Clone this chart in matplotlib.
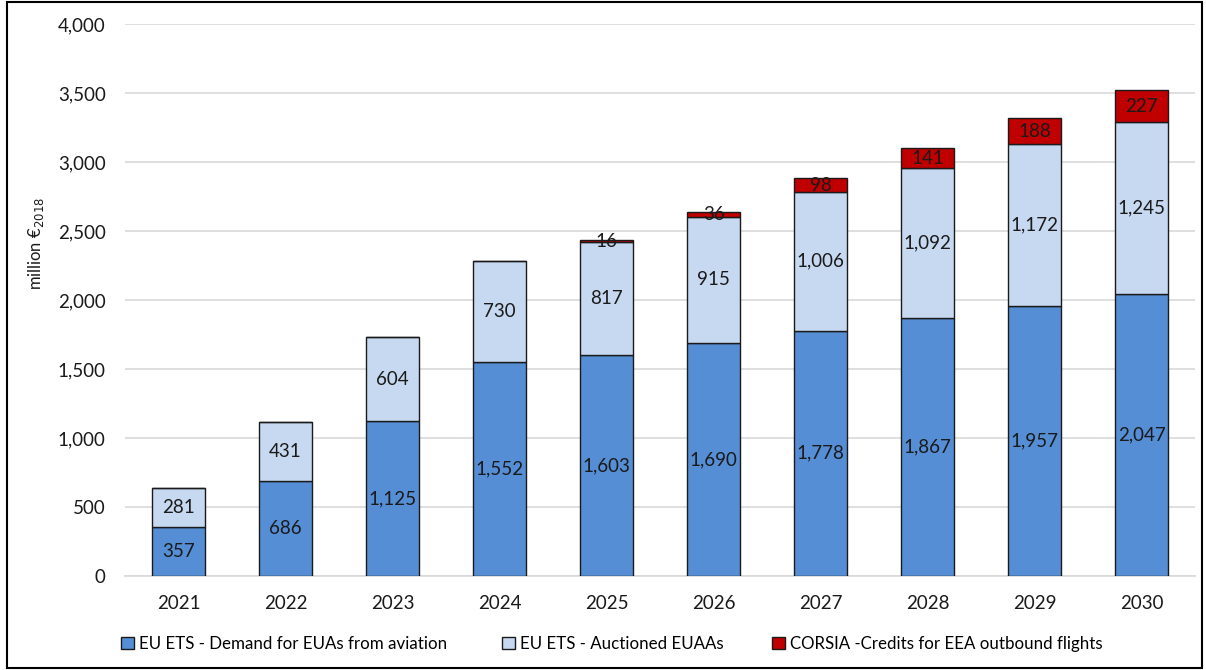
import matplotlib
matplotlib.use("Agg")
import matplotlib.pyplot as plt
from matplotlib.patches import Rectangle
import numpy as np

plt.rcParams['font.family'] = ['Lato', 'DejaVu Sans']

years = ["2021", "2022", "2023", "2024", "2025", "2026", "2027", "2028", "2029", "2030"]
demand = [357, 686, 1125, 1552, 1603, 1690, 1778, 1867, 1957, 2047]
auctioned = [281, 431, 604, 730, 817, 915, 1006, 1092, 1172, 1245]
corsia = [0, 0, 0, 0, 16, 36, 98, 141, 188, 227]

series = [
    ("EU ETS - Demand for EUAs from aviation", demand, "#558ed5"),
    ("EU ETS - Auctioned EUAAs", auctioned, "#c6d9f1"),
    ("CORSIA -Credits for EEA outbound flights", corsia, "#c00000"),
]

fig = plt.figure(figsize=(12.06, 6.70), dpi=100)
ax = fig.add_axes([0.1037, 0.1403, 0.8873, 0.8237])

x = np.arange(len(years))
bottom = np.zeros(len(years))
handles = []
for name, vals, col in series:
    vals = np.array(vals, dtype=float)
    bars = ax.bar(x, vals, 0.5, bottom=bottom, color=col, edgecolor="#1a1a1a",
                  linewidth=1.0, label=name, zorder=3)
    handles.append(bars)
    for xi, b, v in zip(x, bottom, vals):
        if v > 0:
            ax.text(xi, b + v / 2, f"{int(v):,}", ha="center", va="center",
                    fontsize=13.5, color="#1a1a1a", zorder=4)
    bottom += vals

ax.set_xlim(-0.5, 9.5)
ax.set_ylim(0, 4000)
ax.set_yticks(np.arange(0, 4001, 500))
ax.yaxis.set_major_formatter(matplotlib.ticker.FuncFormatter(lambda v, p: f"{int(v):,}"))
ax.set_xticks(x)
ax.set_xticklabels(years)
ax.tick_params(axis="both", length=0, labelsize=13.5, colors="#1a1a1a")
ax.tick_params(axis="y", pad=14)
ax.tick_params(axis="x", pad=14)
ax.grid(axis="y", color="#d9d9d9", linewidth=1.2, zorder=0)
for s in ["top", "right", "left"]:
    ax.spines[s].set_visible(False)
ax.spines["bottom"].set_color("#d9d9d9")
ax.spines["bottom"].set_linewidth(1.2)

fig.text(0.03, 0.637, r"million €$_{2018}$", rotation=90, ha="center", va="center",
         fontsize=12, color="#1a1a1a")

# one legend per series so each entry sits at its own x position
leg_x = [121, 502, 772]
for h, (name, _, _), px in zip(handles, series, leg_x):
    leg = fig.legend([h], [name], loc="center left",
                     bbox_to_anchor=(px / 1206, 1 - 644 / 670), frameon=False,
                     fontsize=12.2, handlelength=0.75, handleheight=0.75,
                     handletextpad=0.3, borderpad=0, borderaxespad=0)

fig.patches.append(Rectangle((0.006, 0.003), 0.991, 0.994, transform=fig.transFigure,
                             fill=False, edgecolor="black", linewidth=1.5))

fig.savefig("out.png", dpi=100)
